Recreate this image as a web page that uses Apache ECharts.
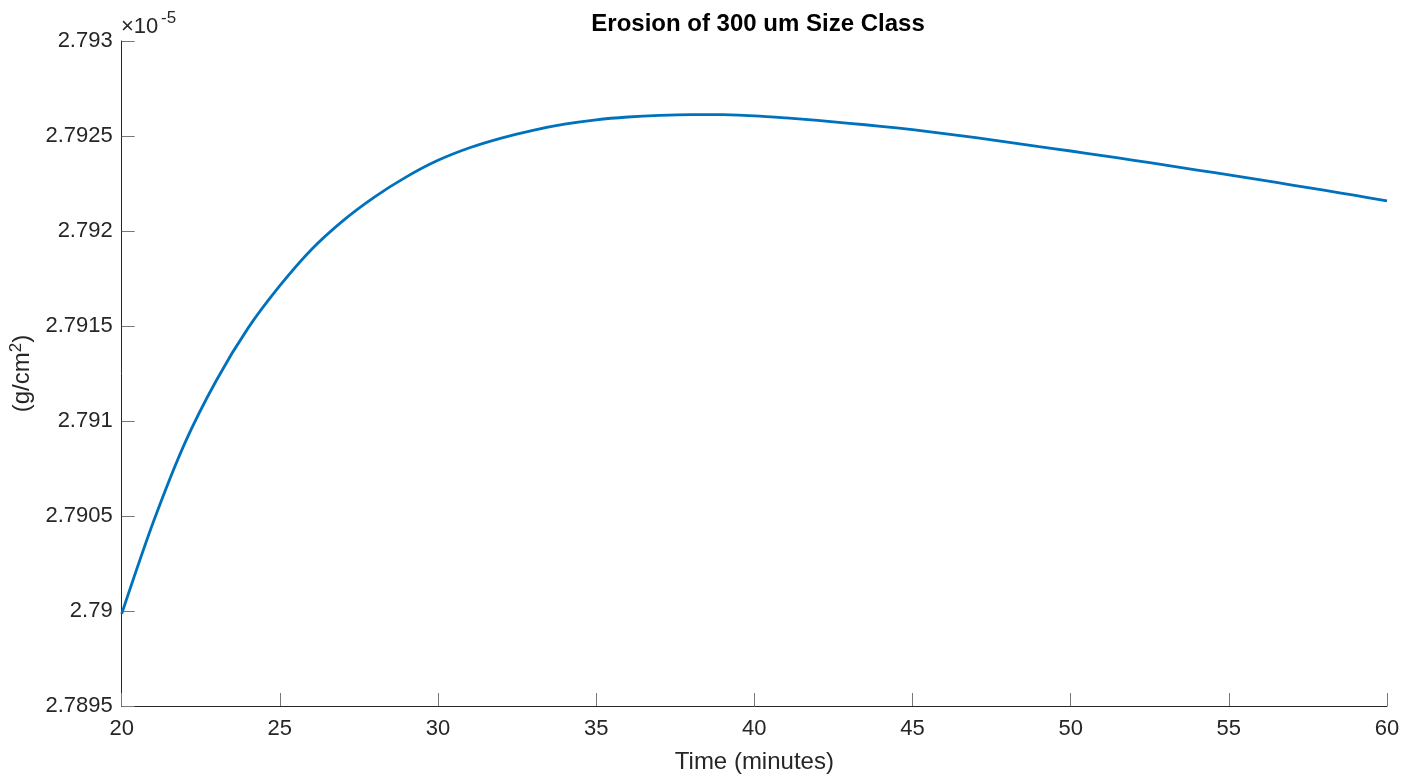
<!DOCTYPE html>
<html>
<head>
<meta charset="utf-8">
<script src="https://cdn.jsdelivr.net/npm/echarts@6/dist/echarts.min.js"></script>
<style>
  html, body { margin: 0; padding: 0; background: #fff; }
  #chart { width: 1416px; height: 779px; }
</style>
</head>
<body>
<div id="chart"></div>
<script>
// time in minutes
const times = [20, 21, 22, 23, 24, 25, 26, 27, 28, 29, 30,
  31, 32, 33, 34, 35, 36, 37, 38, 39, 40,
  41, 42, 43, 44, 45, 46, 47, 48, 49, 50,
  51, 52, 53, 54, 55, 56, 57, 58, 59, 60];
// erosion, in units of 1e-5 g/cm2
const erosion = [2.789985, 2.790468, 2.790885, 2.791216, 2.791490, 2.791712, 2.791903, 2.792055, 2.792180, 2.792285, 2.792372,
  2.792438, 2.792489, 2.792530, 2.792562, 2.792585, 2.792600, 2.792609, 2.792613, 2.792612, 2.792606,
  2.792595, 2.792582, 2.792567, 2.792551, 2.792533, 2.792513, 2.792491, 2.792468, 2.792444, 2.792421,
  2.792397, 2.792372, 2.792347, 2.792321, 2.792295, 2.792269, 2.792242, 2.792215, 2.792187, 2.792158];
const xTicks = [20, 25, 30, 35, 40, 45, 50, 55, 60];
const yTicks = [2.7895, 2.79, 2.7905, 2.791, 2.7915, 2.792, 2.7925, 2.793];

const font = 'Liberation Sans, Arial, Helvetica, sans-serif';
const chart = echarts.init(document.getElementById('chart'));

const option = {
  animation: false,
  backgroundColor: '#fff',
  title: {
    text: 'Erosion of 300 um Size Class',
    left: 753,
    textAlign: 'center',
    top: 7,
    textStyle: { fontFamily: font, fontWeight: 'bold', fontSize: 24, color: '#000' }
  },
  grid: { left: 119, right: 29, top: 41, bottom: 70 },
  graphic: [
    { type: 'text', left: 121, top: 16, style: { text: '×10', font: '22px ' + font, fill: '#262626' } },
    { type: 'text', left: 161, top: 10, style: { text: '-5', font: '17px ' + font, fill: '#262626' } }
  ],
  xAxis: {
    type: 'value',
    min: xTicks[0],
    max: xTicks[xTicks.length - 1],
    interval: 5,
    name: 'Time (minutes)',
    nameLocation: 'middle',
    nameGap: 44,
    nameTextStyle: { fontFamily: font, fontSize: 24, color: '#262626' },
    axisLine: { show: true, lineStyle: { color: '#262626', width: 1 } },
    axisTick: { show: true, inside: true, length: 13, lineStyle: { color: '#777' } },
    axisLabel: { fontFamily: font, fontSize: 22, color: '#262626', margin: 12 },
    splitLine: { show: false }
  },
  yAxis: {
    type: 'value',
    min: yTicks[0],
    max: yTicks[yTicks.length - 1],
    interval: 0.0005,
    name: '(g/cm{sup|2})',
    nameLocation: 'middle',
    nameGap: 76,
    nameRotate: 90,
    nameTextStyle: {
      fontFamily: font, fontSize: 24, color: '#262626',
      rich: { sup: { fontFamily: font, fontSize: 17, color: '#262626', padding: [0, 0, 12, 0] } }
    },
    axisLine: { show: true, lineStyle: { color: '#262626', width: 1 } },
    axisTick: { show: true, inside: true, length: 13, lineStyle: { color: '#777' } },
    axisLabel: {
      fontFamily: font, fontSize: 22, color: '#262626', margin: 9,
      formatter: v => String(parseFloat(v.toFixed(4)))
    },
    splitLine: { show: false }
  },
  series: [{
    type: 'line',
    data: times.map((t, i) => [t, erosion[i]]),
    showSymbol: false,
    smooth: 0.3,
    lineStyle: { color: '#0072BD', width: 2.8 },
    itemStyle: { color: '#0072BD' }
  }]
};

chart.setOption(option);
</script>
</body>
</html>
